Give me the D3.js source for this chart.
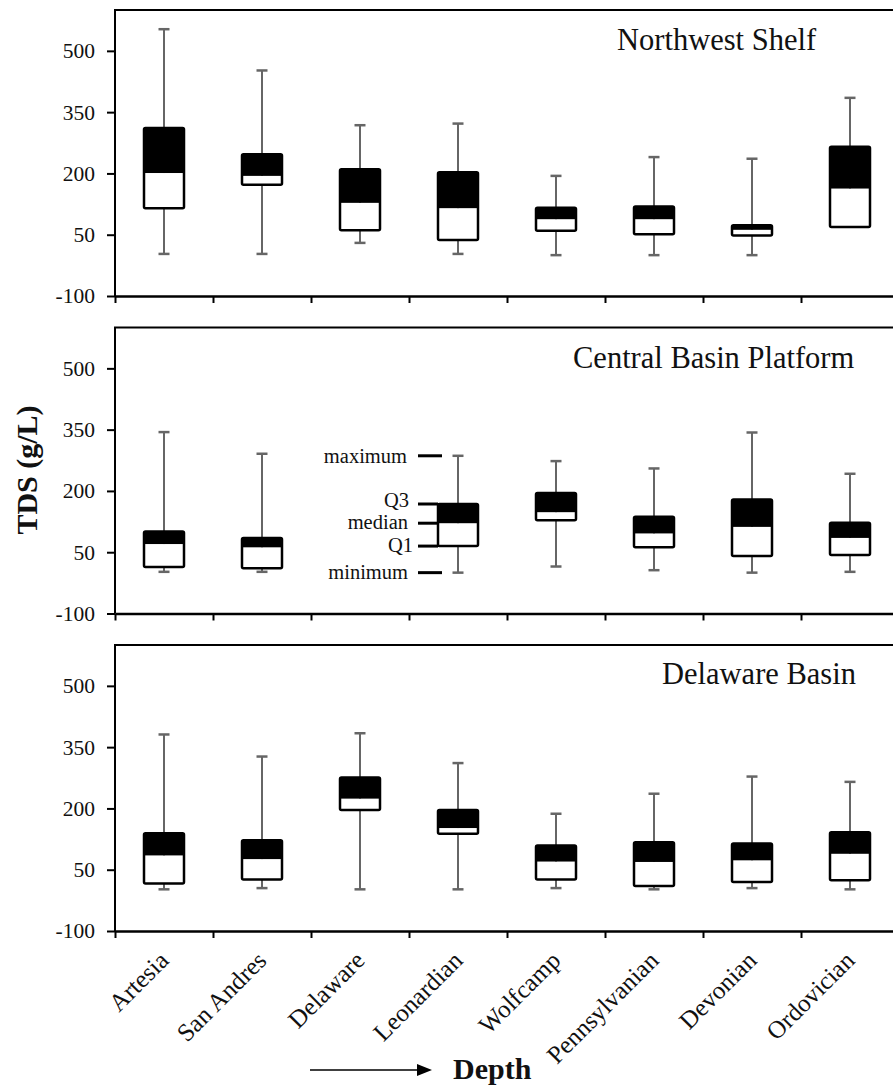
<!DOCTYPE html>
<html>
<head>
<meta charset="utf-8">
<script src="https://cdn.jsdelivr.net/npm/d3@7"></script>
<style>
  html, body { margin: 0; padding: 0; background: #fff; }
  svg { display: block; }
  text { font-family: "Liberation Serif", "Times New Roman", serif; fill: #111; }
</style>
</head>
<body>
<svg id="chart" width="893" height="1086"></svg>
<script>
// ---------- data ----------
const categories = ["Artesia", "San Andres", "Delaware", "Leonardian", "Wolfcamp", "Pennsylvanian", "Devonian", "Ordovician"];
const panelNames = ["Northwest Shelf", "Central Basin Platform", "Delaware Basin"];
const yTickValues = [-100, 50, 200, 350, 500];
const yDomain = [-100, 600];
const legendLabels = ["maximum", "Q3", "median", "Q1", "minimum"];

// Northwest Shelf
const nwMin    = [3, 3, 30, 3, 0, 0, 0, 69];
const nwQ1     = [115, 172, 61, 37, 60, 51, 48, 69];
const nwMedian = [201, 194, 128, 115, 88, 88, 62, 163];
const nwQ3     = [311, 247, 210, 203, 116, 119, 73, 265];
const nwMax    = [553, 452, 318, 322, 194, 240, 236, 385];

// Central Basin Platform (no Delaware data)
const cbMin    = [2, 2, null, 0, 15, 6, 0, 2];
const cbQ1     = [14, 11, null, 65, 128, 62, 41, 43];
const cbMedian = [70, 62, null, 121, 148, 96, 112, 85];
const cbQ3     = [101, 85, null, 168, 195, 137, 179, 122];
const cbMax    = [344, 291, null, 286, 273, 255, 343, 242];

// Delaware Basin
const dbMin    = [2, 5, 2, 2, 5, 2, 5, 2];
const dbQ1     = [16, 26, 196, 138, 26, 10, 20, 24];
const dbMedian = [85, 76, 224, 152, 70, 69, 73, 89];
const dbQ3     = [139, 122, 276, 196, 109, 117, 114, 142];
const dbMax    = [381, 327, 384, 311, 187, 236, 278, 265];

function buildRows(mn, q1, md, q3, mx) {
  return categories.map((c, i) => ({ cat: c, min: mn[i], q1: q1[i], median: md[i], q3: q3[i], max: mx[i] }))
                   .filter(d => d.median !== null);
}
const panels = [
  { name: panelNames[0], rows: buildRows(nwMin, nwQ1, nwMedian, nwQ3, nwMax) },
  { name: panelNames[1], rows: buildRows(cbMin, cbQ1, cbMedian, cbQ3, cbMax), legend: true },
  { name: panelNames[2], rows: buildRows(dbMin, dbQ1, dbMedian, dbQ3, dbMax), xLabels: true }
];

// ---------- layout ----------
const svg = d3.select("#chart");
svg.append("rect").attr("width", 893).attr("height", 1086).attr("fill", "#fff");

const left = 115, right = 899;
const panelTop = [10, 327.5, 645];
const panelH = 286;
const titleLayout = [ { x: 617, y: 50 }, { x: 573, y: 368 }, { x: 662, y: 684 } ];
const boxW = 40, capW = 11;
const serif = '"Liberation Serif", "Times New Roman", serif';

const x = d3.scaleBand().domain(categories).range([left, right]).paddingInner(0).paddingOuter(0);
const xb = d3.scaleLinear().domain([0, categories.length]).range([left, right]);

panels.forEach((p, pi) => {
  const top = panelTop[pi], bottom = top + panelH;
  const y = d3.scaleLinear().domain(yDomain).range([bottom, top]);
  const g = svg.append("g");

  // frame: left & top
  g.append("path")
    .attr("d", `M${left},${bottom} V${top} H${right}`)
    .attr("fill", "none").attr("stroke", "#000").attr("stroke-width", 2);

  // y axis
  const ya = g.append("g").attr("transform", `translate(${left},0)`)
    .call(d3.axisLeft(y).tickValues(yTickValues).tickSize(8).tickPadding(12).tickFormat(d => String(d)));
  ya.attr("font-family", serif).attr("font-size", 21);
  ya.select(".domain").remove();
  ya.selectAll(".tick line").attr("stroke", "#000").attr("stroke-width", 2);
  ya.selectAll(".tick text").style("font-family", serif).style("font-size", "21.5px").attr("fill", "#111");

  // x axis (category boundary ticks)
  const xa = g.append("g").attr("transform", `translate(0,${bottom})`)
    .call(d3.axisBottom(xb).tickValues(d3.range(0, categories.length + 1)).tickSize(7).tickSizeOuter(0).tickFormat(""));
  xa.select(".domain").attr("stroke", "#000").attr("stroke-width", 2.5);
  xa.selectAll(".tick line").attr("stroke", "#000").attr("stroke-width", 2);

  // title
  g.append("text").attr("x", titleLayout[pi].x).attr("y", titleLayout[pi].y)
    .style("font-size", "30.5px").text(p.name);

  // boxes
  const bx = g.selectAll("g.box").data(p.rows).enter().append("g").attr("class", "box")
    .attr("transform", d => `translate(${x(d.cat) + x.bandwidth() / 2},0)`);

  bx.append("line").attr("x1", 0).attr("x2", 0)
    .attr("y1", d => y(d.max)).attr("y2", d => y(d.min))
    .attr("stroke", "#666").attr("stroke-width", 2);
  bx.append("line").attr("x1", -capW / 2).attr("x2", capW / 2)
    .attr("y1", d => y(d.max)).attr("y2", d => y(d.max))
    .attr("stroke", "#666").attr("stroke-width", 2.5);
  bx.filter(d => d.min < d.q1).append("line").attr("x1", -capW / 2).attr("x2", capW / 2)
    .attr("y1", d => y(d.min)).attr("y2", d => y(d.min))
    .attr("stroke", "#666").attr("stroke-width", 2.5);

  // lower (white) part
  bx.append("rect").attr("x", -boxW / 2).attr("width", boxW)
    .attr("y", d => y(d.median)).attr("height", d => y(d.q1) - y(d.median))
    .attr("fill", "#fff");
  // upper (black) part
  bx.append("rect").attr("x", -boxW / 2).attr("width", boxW)
    .attr("y", d => y(d.q3)).attr("height", d => y(d.median) - y(d.q3))
    .attr("fill", "#000");
  // outline
  bx.append("rect").attr("x", -boxW / 2).attr("width", boxW)
    .attr("y", d => y(d.q3)).attr("height", d => y(d.q1) - y(d.q3))
    .attr("rx", 1.5)
    .attr("fill", "none").attr("stroke", "#000").attr("stroke-width", 2.5);

  // legend annotation next to the Leonardian box
  if (p.legend) {
    const ref = p.rows.find(d => d.cat === "Leonardian");
    const bandX = x("Leonardian");
    const boxLeft = bandX + x.bandwidth() / 2 - boxW / 2;
    const keys = ["max", "q3", "median", "q1", "min"];
    const textDy = [0, -4, -1, -1, 0];
    const textX = [bandX - 2, bandX, bandX - 1, bandX + 4, bandX - 1];
    keys.forEach((k, i) => {
      const yy = y(ref[k]);
      const isEnd = (k === "max" || k === "min");
      g.append("line")
        .attr("x1", bandX + 9).attr("x2", isEnd ? bandX + 33 : boxLeft)
        .attr("y1", yy).attr("y2", yy)
        .attr("stroke", "#000").attr("stroke-width", 3);
      g.append("text").attr("x", textX[i]).attr("y", yy + textDy[i])
        .attr("text-anchor", "end").attr("dy", "0.33em")
        .style("font-size", "20.5px").text(legendLabels[i]);
    });
  }

  // category labels on the bottom panel
  if (p.xLabels) {
    g.selectAll("text.xl").data(categories).enter().append("text").attr("class", "xl")
      .attr("text-anchor", "end")
      .attr("transform", d => `translate(${x(d) + x.bandwidth() / 2 + 6},${bottom + 31}) rotate(-45)`)
      .style("font-size", "25px").text(d => d);
  }
});

// y axis title
svg.append("text")
  .attr("transform", "translate(37,470) rotate(-90)")
  .attr("text-anchor", "middle")
  .style("font-size", "30px").style("font-weight", "bold")
  .text("TDS (g/L)");

// depth arrow + label
svg.append("line").attr("x1", 310).attr("x2", 420).attr("y1", 1070).attr("y2", 1070)
  .attr("stroke", "#000").attr("stroke-width", 1.5);
svg.append("path").attr("d", "M417,1064 L432,1070 L417,1076 Z").attr("fill", "#000");
svg.append("text").attr("x", 453).attr("y", 1079)
  .style("font-size", "30px").style("font-weight", "bold").text("Depth");
</script>
</body>
</html>
